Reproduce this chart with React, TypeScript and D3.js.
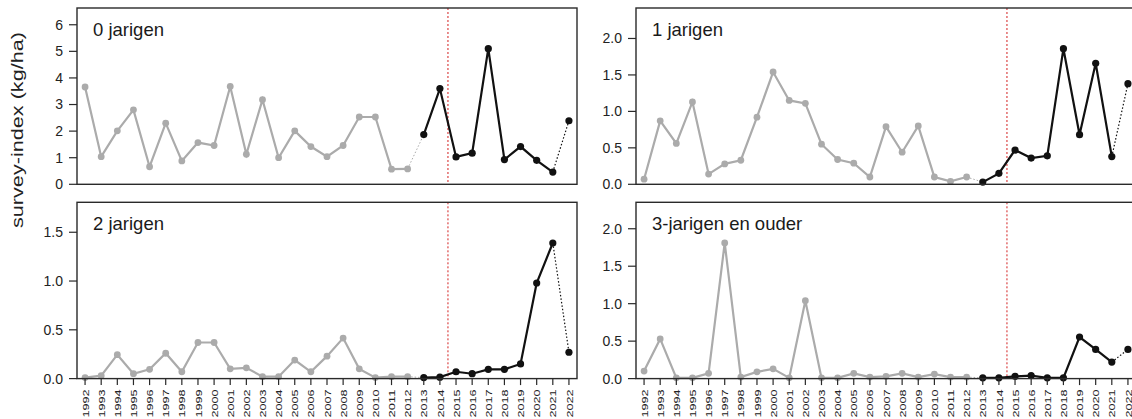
import React from "react";
import * as d3 from "d3";

// Survey years (x categories)
const years = [
  1992, 1993, 1994, 1995, 1996, 1997, 1998, 1999, 2000, 2001, 2002,
  2003, 2004, 2005, 2006, 2007, 2008, 2009, 2010, 2011, 2012,
  2013, 2014, 2015, 2016, 2017, 2018, 2019, 2020, 2021, 2022,
];

// Survey index (kg/ha) per age class
const age0 = [
  3.66, 1.04, 2.01, 2.8, 0.66, 2.3, 0.88, 1.57, 1.46, 3.68, 1.13,
  3.18, 1.0, 2.01, 1.42, 1.04, 1.46, 2.53, 2.53, 0.57, 0.58,
  1.87, 3.6, 1.03, 1.17, 5.1, 0.93, 1.42, 0.9, 0.46, 2.39,
];
const age1 = [
  0.07, 0.87, 0.56, 1.13, 0.14, 0.28, 0.33, 0.92, 1.54, 1.15, 1.11,
  0.55, 0.34, 0.29, 0.1, 0.79, 0.44, 0.8, 0.1, 0.04, 0.1,
  0.03, 0.15, 0.47, 0.36, 0.39, 1.86, 0.68, 1.66, 0.38, 1.38,
];
const age2 = [
  0.01, 0.03, 0.245, 0.05, 0.095, 0.26, 0.07, 0.37, 0.37, 0.1, 0.11,
  0.02, 0.02, 0.19, 0.07, 0.23, 0.415, 0.1, 0.01, 0.02, 0.02,
  0.01, 0.015, 0.07, 0.05, 0.095, 0.095, 0.15, 0.98, 1.39, 0.27,
];
const age3plus = [
  0.1, 0.53, 0.01, 0.01, 0.07, 1.81, 0.02, 0.09, 0.13, 0.01, 1.04,
  0.01, 0.01, 0.07, 0.02, 0.03, 0.07, 0.02, 0.06, 0.02, 0.02,
  0.01, 0.01, 0.03, 0.04, 0.01, 0.01, 0.555, 0.39, 0.22, 0.39,
];

const panelTitles = ["0 jarigen", "1 jarigen", "2 jarigen", "3-jarigen en ouder"];
const panelSeries = [age0, age1, age2, age3plus];

// Year boundaries of the two survey periods and the marker year
const oldPeriodEnd = 2012;
const newPeriodEnd = 2021;
const changeYear = 2014.5;

const W = 1132;
const H = 419;
const PW = 500;
const PH = 176.3;
const colLeft = [77, 636];
const rowTop = [8, 202.3];

const FONT = "'Liberation Sans', Arial, Helvetica, sans-serif";
const GREY = "#ababab";
const INK = "#111";

function Panel({ idx }: { idx: number }) {
  const values = panelSeries[idx];
  const left = colLeft[idx % 2];
  const top = rowTop[Math.floor(idx / 2)];
  const isBottom = idx >= 2;

  const x = d3.scaleLinear().domain([1991.5, 2022.5]).range([left, left + PW]);
  const yMax = (d3.max(values) as number) * 1.3;
  const y = d3.scaleLinear().domain([0, yMax]).range([top + PH, top]);
  const ticks = y.ticks(5);
  const step = ticks[1] - ticks[0];
  const fmt = d3.format(step < 1 ? ".1f" : "d");

  const pts = years.map((yr, i) => ({ yr, v: values[i] }));
  const oldPts = pts.filter((p) => p.yr <= oldPeriodEnd);
  const newPts = pts.filter((p) => p.yr > oldPeriodEnd && p.yr <= newPeriodEnd);
  const lastOld = oldPts[oldPts.length - 1];
  const firstNew = newPts[0];
  const lastNew = newPts[newPts.length - 1];
  const final = pts[pts.length - 1];

  const line = d3
    .line<{ yr: number; v: number }>()
    .x((d) => x(d.yr))
    .y((d) => y(d.v));

  return (
    <g>
      {/* period change marker */}
      <line
        x1={x(changeYear)}
        x2={x(changeYear)}
        y1={top}
        y2={top + PH}
        stroke="#d42020"
        strokeWidth={1}
        strokeDasharray="2,2"
      />
      {/* connectors between periods */}
      <line
        x1={x(lastOld.yr)}
        y1={y(lastOld.v)}
        x2={x(firstNew.yr)}
        y2={y(firstNew.v)}
        stroke={GREY}
        strokeWidth={1}
        strokeDasharray="1.5,2"
      />
      <line
        x1={x(lastNew.yr)}
        y1={y(lastNew.v)}
        x2={x(final.yr)}
        y2={y(final.v)}
        stroke={INK}
        strokeWidth={1.2}
        strokeDasharray="1.5,2"
      />
      <path d={line(oldPts) || ""} fill="none" stroke={GREY} strokeWidth={2.2} />
      {oldPts.map((p) => (
        <circle key={p.yr} cx={x(p.yr)} cy={y(p.v)} r={3.4} fill={GREY} />
      ))}
      <path d={line(newPts) || ""} fill="none" stroke={INK} strokeWidth={2.2} />
      {newPts.concat([final]).map((p) => (
        <circle key={p.yr} cx={x(p.yr)} cy={y(p.v)} r={3.6} fill={INK} />
      ))}

      {/* frame */}
      <rect x={left} y={top} width={PW} height={PH} fill="none" stroke="#2a2a2a" strokeWidth={1.4} />

      {/* y axis */}
      {ticks.map((t) => (
        <g key={t}>
          <line x1={left - 8} x2={left} y1={y(t)} y2={y(t)} stroke="#2a2a2a" strokeWidth={1.2} />
          <text
            x={left - 14}
            y={y(t)}
            dy="0.35em"
            textAnchor="end"
            fontSize={14}
            fontFamily={FONT}
            fill="#222"
          >
            {fmt(t)}
          </text>
        </g>
      ))}

      {/* x axis (bottom row only) */}
      {isBottom &&
        years.map((yr) => (
          <g key={yr}>
            <line
              x1={x(yr)}
              x2={x(yr)}
              y1={top + PH}
              y2={top + PH + 6.5}
              stroke="#2a2a2a"
              strokeWidth={1.2}
            />
            <text
              transform={`translate(${x(yr) + 3.6},${top + PH + 11}) rotate(-90)`}
              textAnchor="end"
              fontSize={9.4}
              fontFamily={FONT}
              fill="#222"
              textLength={28}
              lengthAdjust="spacingAndGlyphs"
            >
              {yr}
            </text>
          </g>
        ))}

      <text
        x={left + 16}
        y={top + 28}
        fontSize={18.5}
        fontFamily={FONT}
        fill="#1a1a1a"
      >
        {panelTitles[idx]}
      </text>
    </g>
  );
}

export default function App() {
  return (
    <svg
      width={W}
      height={H}
      viewBox={`0 0 ${W} ${H}`}
      style={{ position: "absolute", left: 0, top: 0, background: "#fff" }}
    >
      <rect x={0} y={0} width={W} height={H} fill="#fff" />
      {panelSeries.map((_, i) => (
        <Panel key={i} idx={i} />
      ))}
      <text
        transform="translate(22.5,130) rotate(-90)"
        textAnchor="middle"
        fontSize={17}
        fontFamily={FONT}
        fill="#222"
        textLength={196}
        lengthAdjust="spacingAndGlyphs"
      >
        survey-index (kg/ha)
      </text>
    </svg>
  );
}
